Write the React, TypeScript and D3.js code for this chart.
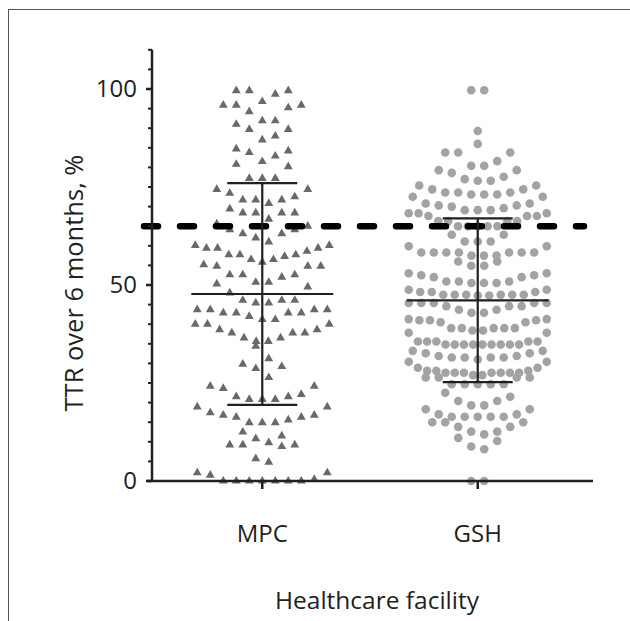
import React, { useMemo } from 'react';
import * as d3 from 'd3';

const categories = ['MPC', 'GSH'];

// TTR values (%), one entry per marker
const mpcValues = [
  99.6, 99.6, 99.6, 98.7, 96.8, 95.9, 95.9, 95.9, 95.2, 94.2, 91.9, 91.9, 91, 89.7, 89.7,
  88, 87, 84.7, 84.2, 83.8, 82.9, 81.5, 80.8, 80.2, 77.2, 77.2, 77.2, 74.4, 74.4, 73.4,
  72.5, 71.7, 71.7, 71.7, 70.8, 69.4, 68.4, 68.4, 68.4, 68.4,
  66.8, 65.6, 65, 64.1, 64.1, 63.1, 63.1, 62, 61, 60.1, 60.1, 59.4, 59.4, 59.4, 58.6,
  57.7, 57.7, 57.7, 57.3, 56.5, 56.5, 55.8, 55.2, 54.8, 54.8, 54.8, 52.6, 52.6, 52.6, 52,
  50.7, 50.7, 50.3, 49.5, 48, 46.1, 46.1, 46.1, 45.4, 45.4, 43.7, 43.7, 43.7, 43.7,
  42.9, 42.9, 42.9, 42.9, 42, 41.2, 41.2, 40, 40, 40, 38.6, 38.6, 37.8, 37.8, 37.8,
  36.5, 36.5, 35.6, 35.6, 34.4,
  31.2, 29.8, 29.2, 28.7, 26.4, 24.2, 24.2, 23.6, 22.1, 21.5, 21.5, 20.8, 20.8, 20.8,
  18.9, 18.9, 17.4, 16.8, 16.8, 16.3, 16.3, 15.6, 14.9, 14.9, 14.9, 12.5, 11.5, 10.8,
  9.8, 9.2, 9.2, 9.2, 8.8, 5.7, 4.8, 2.1, 2.1, 1.5, 0.4, 0, 0, 0, 0, 0, 0, 0,
];

const gshValues = [
  99.7, 99.7, 89.3, 86, 83.8, 83.8, 83.8, 81.6, 80.4, 80.4, 79.3, 79.3, 78.6, 77.6, 77,
  76.6, 76.6, 75.4, 75.4, 74.4, 74.4, 73.6, 73.6, 73.6, 73.1, 73.1, 73.1, 72.5, 72.5,
  70.8, 70.8, 70.3, 70.3, 70, 69.6, 69.1, 69.1, 69.1, 68.3, 68.3, 68.3,
  67.6, 67.6, 67.6, 66.3, 66.3, 66.3, 66.3, 65, 65, 65, 65, 65, 62.8, 62.8,
  61.1, 61.1, 61.1, 59.9, 59.9, 58.3, 58.3, 58.3, 58.3, 58.3, 58.3, 58.3, 57.5, 57.5, 57.5,
  56, 56, 54.9, 54.9, 53, 53, 52.5, 52.5, 52, 52, 50.9, 50.9, 50.9, 50.5, 50.5, 50.5,
  48.8, 48.8, 48.2, 48.2, 48.2, 47.5, 47.5, 47.5, 47.5, 47.5, 47.5, 47.3, 47.3,
  45.4, 45.4, 45.4, 45.4, 45.4, 44.6, 44.6, 44.6, 43.7, 43.7, 42.9, 42.9, 41.3, 41.3,
  41, 41, 41, 40.5, 40.5, 39, 39, 39, 39, 39, 38.4, 38.4, 37.8, 37.8,
  35.6, 35.6, 35.6, 35.6, 35.6, 34.8, 34.8, 34.8, 34.8, 34.8, 34.8, 34.8, 34.8, 34.8,
  33.2, 33.2, 32.6, 32.6, 31.9, 31.9, 31.5, 31.5, 31.5, 31.5, 31, 30.4, 30.4,
  28.9, 28.9, 28.1, 28.1, 28.1, 27.6, 27.6, 27.6, 27.6, 27.6, 27.6, 27.6, 27, 27,
  26.4, 26.4, 26.4, 26.4, 24.7, 24.7, 24.7, 24.7, 24.7, 22.5, 21.5, 20.4, 20.4,
  19.3, 19.3, 18.3, 18.3, 17, 17, 16.4, 16.4, 16.4, 16.4, 16.4, 15, 15, 15,
  13.8, 13.8, 12.6, 12.6, 11.9, 11, 10.2, 8.8, 8.1, 0, 0,
];

const groupValues = [mpcValues, gshValues];
const meanValues = [47.7, 46.1];
const sdValues = [28.3, 20.9];
const targetTTR = 65;

const yMajorTicks = [0, 50, 100];
const yMinorTicks = [5, 10, 15, 20, 25, 30, 35, 40, 45, 55, 60, 65, 70, 75, 80, 85, 90, 95, 105, 110];

const width = 630;
const height = 621;
const fontFamily = '"Open Sans", "Noto Sans", sans-serif';
const ink = '#231f20';

// Prism-style scatter: rows of binHeight px, points spread side by side,
// squeezed when a row would get wider than maxHalf
function scatterRows(values: number[], y: (v: number) => number, binHeight: number, shift: number, gap: number, maxHalf: number) {
  const base = y(0) + shift;
  const rows = d3.group(values.map(v => ({ v, y: y(v) })), d => Math.floor((base - d.y) / binHeight));
  const out: { dx: number; y: number }[] = [];
  for (const [row, pts] of rows) {
    const n = pts.length;
    const s = n > 1 ? Math.min(gap, (2 * maxHalf) / (n - 1)) : gap;
    const sign = row % 2 === 0 ? 1 : -1;
    const slots = d3.range(n)
      .map(i => (i - (n - 1) / 2) * s * sign)
      .sort((a, b) => Math.abs(a) - Math.abs(b) || b - a);
    const sorted = [...pts].sort((a, b) => a.v - b.v);
    sorted.forEach((p, i) => out.push({ dx: slots[i], y: p.y }));
  }
  return out;
}

export default function App() {
  const x = d3.scalePoint<string>().domain(categories).range([147, 593]).padding(0.535);
  const y = d3.scaleLinear().domain([0, 110]).range([481, 49.8]);

  const rows = useMemo(
    () => [
      scatterRows(groupValues[0], y, 20, 2.5, 13, 67),
      scatterRows(groupValues[1], y, 15, 0.5, 13, 69),
    ],
    []
  );

  const tri = d3.symbol(d3.symbolTriangle, 34)()!;

  return (
    <svg width={width} height={height} style={{ position: 'absolute', left: 0, top: 0 }}>
      <rect x={0} y={0} width={width} height={height} fill="#fff" />
      {/* figure frame, runs off the right and bottom edges */}
      <rect x={8.5} y={9.5} width={700} height={700} fill="none" stroke="#555" strokeWidth={1} />

      {/* points */}
      {rows[0].map((p, i) => (
        <path key={`m${i}`} d={tri} transform={`translate(${x('MPC')! + p.dx},${p.y})`} fill="#696969" />
      ))}
      {rows[1].map((p, i) => (
        <circle key={`g${i}`} cx={x('GSH')! + p.dx} cy={p.y} r={4.3} fill="#a3a3a3" />
      ))}

      {/* target line */}
      <line x1={144} x2={584} y1={y(targetTTR)} y2={y(targetTTR)} stroke="#000"
        strokeWidth={6.5} strokeDasharray="14 22" strokeLinecap="round" />

      {/* mean and SD */}
      {categories.map((c, i) => {
        const cx = x(c)!;
        const m = meanValues[i];
        const s = sdValues[i];
        return (
          <g key={c} stroke={ink} strokeWidth={2.2}>
            <line x1={cx - 71} x2={cx + 71} y1={y(m)} y2={y(m)} />
            <line x1={cx} x2={cx} y1={y(m - s)} y2={y(m + s)} />
            <line x1={cx - 35} x2={cx + 35} y1={y(m + s)} y2={y(m + s)} />
            <line x1={cx - 35} x2={cx + 35} y1={y(m - s)} y2={y(m - s)} />
          </g>
        );
      })}

      {/* y axis */}
      <line x1={152} x2={152} y1={y(110)} y2={y(0) + 1} stroke={ink} strokeWidth={2.5} />
      {yMinorTicks.map(t => (
        <line key={`mi${t}`} x1={148} x2={152} y1={y(t)} y2={y(t)} stroke={ink} strokeWidth={2} />
      ))}
      {yMajorTicks.map(t => (
        <g key={`ma${t}`}>
          <line x1={146} x2={152} y1={y(t)} y2={y(t)} stroke={ink} strokeWidth={2.5} />
          <text x={137} y={y(t)} dy="0.35em" textAnchor="end" fontSize={24} fill={ink} fontFamily={fontFamily}>
            {t}
          </text>
        </g>
      ))}

      {/* x axis */}
      <line x1={147} x2={593} y1={y(0)} y2={y(0)} stroke={ink} strokeWidth={2.5} />
      {categories.map(c => (
        <g key={`xt${c}`}>
          <line x1={x(c)} x2={x(c)} y1={y(0)} y2={y(0) + 8} stroke={ink} strokeWidth={2.5} />
          <text x={x(c)} y={542} textAnchor="middle" fontSize={24} fill={ink} fontFamily={fontFamily}>
            {c}
          </text>
        </g>
      ))}

      <text x={377} y={609} textAnchor="middle" fontSize={24.5} fill={ink} fontFamily={fontFamily}>
        Healthcare facility
      </text>
      <text transform={`translate(83,${y(50) - 2}) rotate(-90)`} textAnchor="middle" fontSize={25.5} fill={ink} fontFamily={fontFamily}>
        TTR over 6 months, %
      </text>
    </svg>
  );
}
